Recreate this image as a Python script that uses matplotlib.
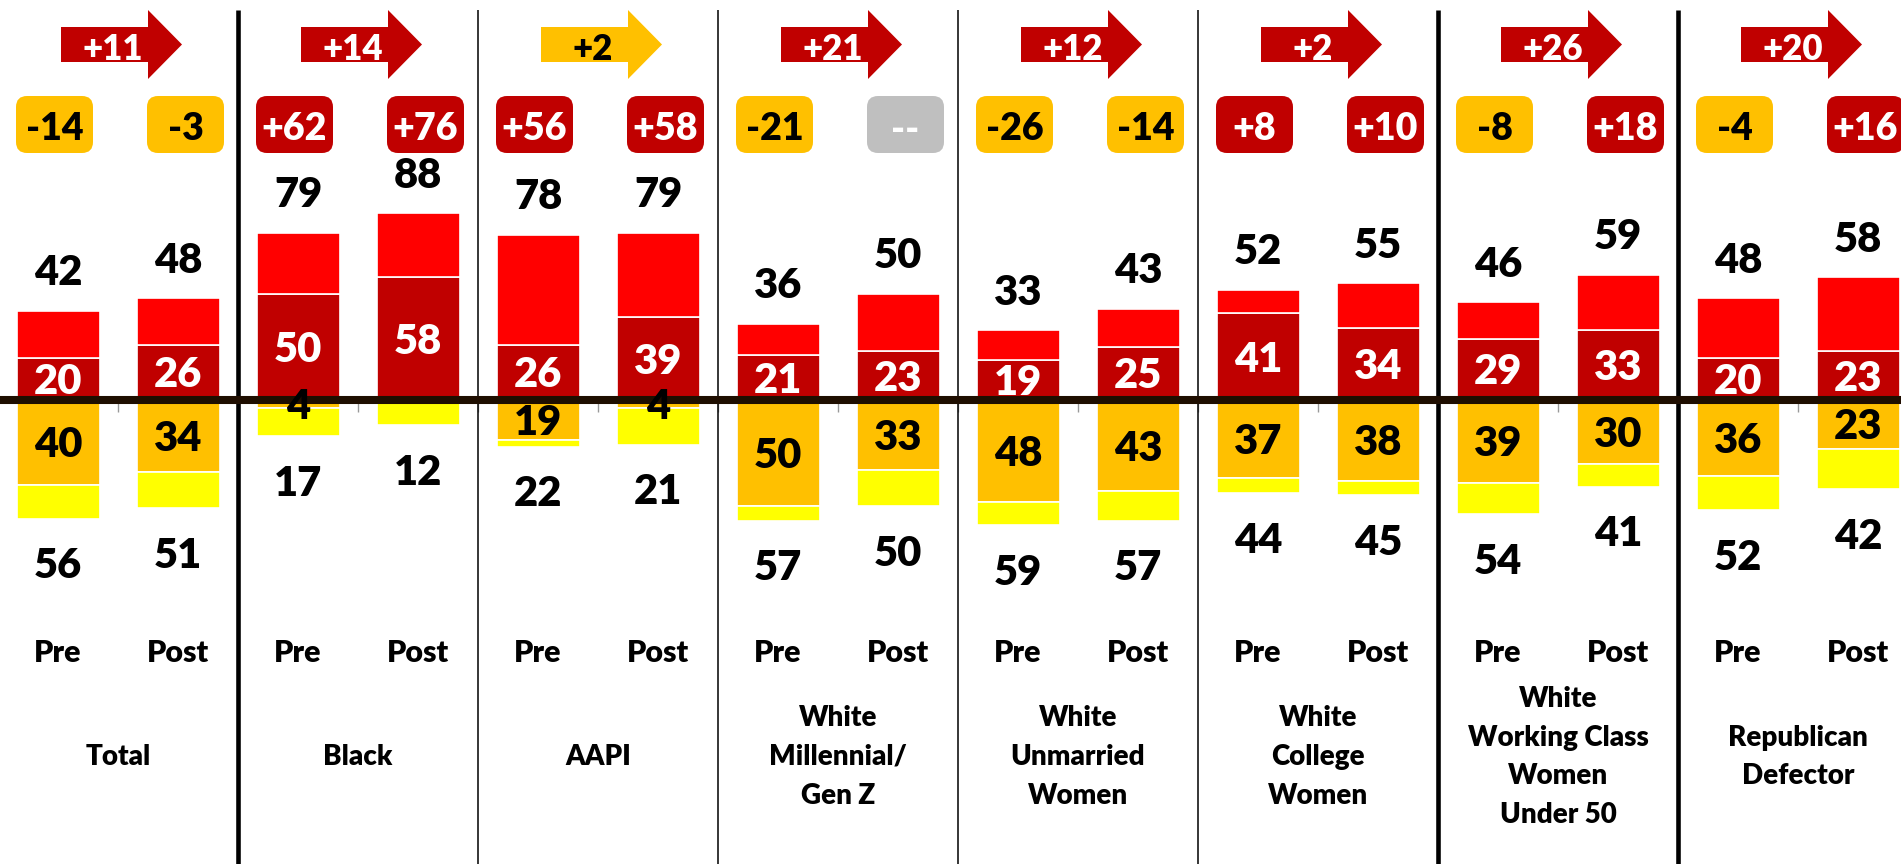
import matplotlib.pyplot as plt
from matplotlib.patches import FancyArrow, FancyBboxPatch
import numpy as np

plt.rcParams['font.family'] = ['Lato', 'DejaVu Sans']
plt.rcParams['font.weight'] = 'heavy'
WEIGHT = 'heavy'

# groups and their pre/post numbers
groups = ["Total", "Black", "AAPI", "White\nMillennial/\nGen Z", "White\nUnmarried\nWomen",
          "White\nCollege\nWomen", "White\nWorking Class\nWomen\nUnder 50", "Republican\nDefector"]
periods = ["Pre", "Post"]

pos_total_pre = [42, 79, 78, 36, 33, 52, 46, 48]
pos_total_post = [48, 88, 79, 50, 43, 55, 59, 58]
pos_strong_pre = [20, 50, 26, 21, 19, 41, 29, 20]
pos_strong_post = [26, 58, 39, 23, 25, 34, 33, 23]
neg_total_pre = [56, 17, 22, 57, 59, 44, 54, 52]
neg_total_post = [51, 12, 21, 50, 57, 45, 41, 42]
neg_strong_pre = [40, 4, 19, 50, 48, 37, 39, 36]
neg_strong_post = [34, 0, 4, 33, 43, 38, 30, 23]

net_pre = ["-14", "+62", "+56", "-21", "-26", "+8", "-8", "-4"]
net_post = ["-3", "+76", "+58", "--", "-14", "+10", "+18", "+16"]
shift = ["+11", "+14", "+2", "+21", "+12", "+2", "+26", "+20"]
shift_muted = [False, False, True, False, False, False, False, False]

RED, DKRED, ORANGE, YELLOW, GRAY = "#FF0000", "#C00000", "#FFC000", "#FFFF00", "#BFBFBF"

# interleave pre/post into one row of bars
def inter(a, b):
    return np.array([v for pair in zip(a, b) for v in pair], dtype=float)

pos_tot = inter(pos_total_pre, pos_total_post)
pos_str = inter(pos_strong_pre, pos_strong_post)
neg_tot = inter(neg_total_pre, neg_total_post)
neg_str = inter(neg_strong_pre, neg_strong_post)
nets = [v for pair in zip(net_pre, net_post) for v in pair]
x = np.arange(len(pos_tot))

PX_Y = 2.12   # pixels per percentage point
PX_X = 120.0  # pixels per bar slot

fig = plt.figure(figsize=(19.01, 8.64), dpi=100)
ax = fig.add_axes([0, 0, 1, 1])
ax.set_xlim(-58 / PX_X, (1901 - 58) / PX_X)
ax.set_ylim(-464 / PX_Y, 400 / PX_Y)
ax.axis('off')

w = 83 / PX_X
ax.bar(x, pos_str, w, color=DKRED, edgecolor='white', linewidth=1.2, zorder=2)
ax.bar(x, pos_tot - pos_str, w, bottom=pos_str, color=RED, edgecolor='white', linewidth=1.2, zorder=2)
ax.bar(x, -neg_str, w, color=ORANGE, edgecolor='white', linewidth=1.2, zorder=2)
ax.bar(x, -(neg_tot - neg_str), w, bottom=-neg_str, color=YELLOW, edgecolor='white', linewidth=1.2, zorder=2)

# zero line and small ticks
ax.axhline(0, color="#1F0E00", lw=5.8, zorder=3)
ax.vlines(np.arange(0.5, len(x) - 1, 1.0), -5.5, 0, color="#999999", lw=1, zorder=1)

# dividers between groups
thick = [0, 5, 6]
for g in range(len(groups) - 1):
    lw = 3.3 if g in thick else 1.1
    ax.vlines(2 * g + 1.5, -464 / PX_Y, 390 / PX_Y, color='black', lw=lw, zorder=1)

big = 30
for i in x:
    ax.text(i, pos_tot[i] + 25.5 / PX_Y, f"{pos_tot[i]:.0f}", ha='center', va='baseline',
            fontsize=big, fontweight=WEIGHT, color='black', zorder=5)
    ax.text(i, pos_str[i] / 2 - 15 / PX_Y, f"{pos_str[i]:.0f}", ha='center', va='baseline',
            fontsize=big, fontweight=WEIGHT, color='white', zorder=5)
    ax.text(i, -neg_tot[i] - 59.5 / PX_Y, f"{neg_tot[i]:.0f}", ha='center', va='baseline',
            fontsize=big, fontweight=WEIGHT, color='black', zorder=5)
    if neg_str[i] > 0:
        ax.text(i, -neg_str[i] / 2 - 15 / PX_Y, f"{neg_str[i]:.0f}", ha='center', va='baseline',
                fontsize=big, fontweight=WEIGHT, color='black', zorder=5)

    # net badge
    n = nets[i]
    if n.startswith('+'):
        fc, tc = DKRED, 'white'
    elif n.startswith('-') and n != '--':
        fc, tc = ORANGE, 'black'
    else:
        fc, tc = GRAY, 'white'
    bx = i + (-3.5 if i % 2 == 0 else 7.5) / PX_X
    bw, bh = 77 / PX_X, 57 / PX_Y
    by = (400 - 124.5) / PX_Y
    badge = FancyBboxPatch((bx - bw / 2, by - bh / 2), bw, bh,
                           boxstyle=f"round,pad=0,rounding_size={11 / PX_X}",
                           mutation_aspect=PX_X / PX_Y, fc=fc, ec='none', zorder=4)
    ax.add_patch(badge)
    ax.text(bx, (400 - 140.5) / PX_Y, n, ha='center', va='baseline', fontsize=27,
            fontweight=WEIGHT, color=tc, zorder=5)

    ax.text(i, (400 - 662) / PX_Y, periods[i % 2], ha='center', va='baseline',
            fontsize=22, fontweight=WEIGHT, color='black')

for g, name in enumerate(groups):
    c = 2 * g + 0.5
    ax.text(c, (400 - 757) / PX_Y, name, ha='center', va='center', fontsize=20,
            fontweight=WEIGHT, color='black', linespacing=1.6)
    fc = ORANGE if shift_muted[g] else DKRED
    tc = 'black' if shift_muted[g] else 'white'
    ay = (400 - 44.5) / PX_Y
    arr = FancyArrow(c - 57 / PX_X, ay, 121 / PX_X, 0, width=35 / PX_Y, head_width=69 / PX_Y,
                     head_length=34 / PX_X, length_includes_head=True, fc=fc, ec='none', zorder=4)
    ax.add_patch(arr)
    ax.text(c - 5 / PX_X, (400 - 59.5) / PX_Y, shift[g], ha='center', va='baseline',
            fontsize=25, fontweight=WEIGHT, color=tc, zorder=5)

fig.savefig("out.png", dpi=100)
